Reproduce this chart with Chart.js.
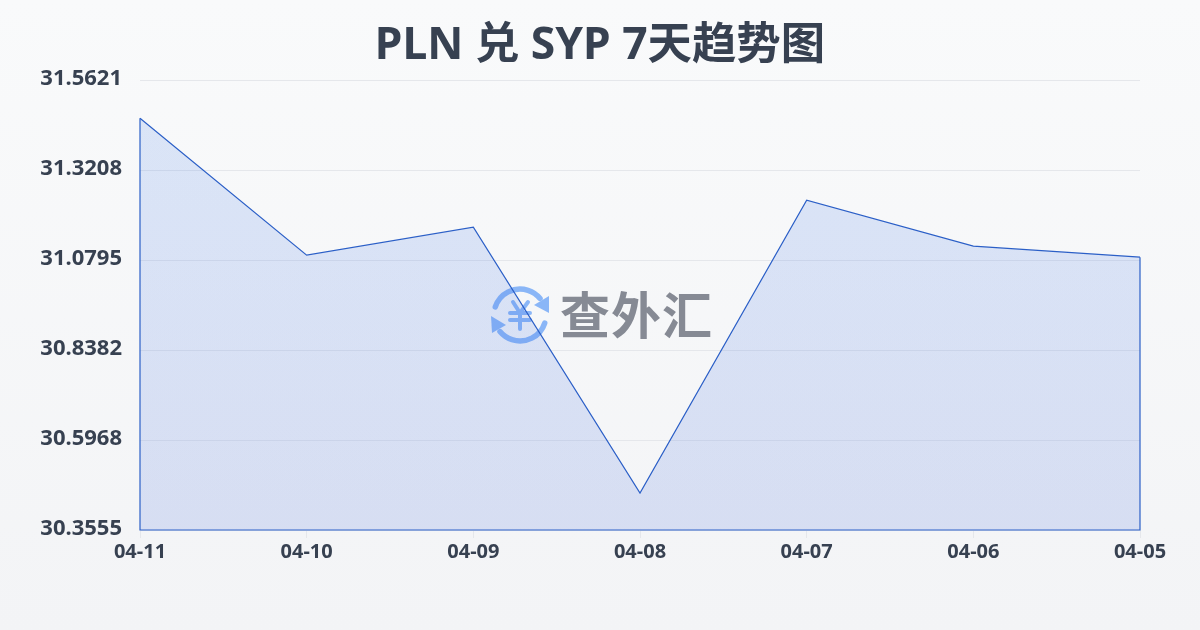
<!DOCTYPE html>
<html>
<head>
<meta charset="utf-8">
<script src="https://cdn.jsdelivr.net/npm/chart.js@4"></script>
<style>
html, body { margin: 0; padding: 0; }
body { width: 1200px; height: 630px; overflow: hidden; background: linear-gradient(180deg, #f9fafb 0%, #f3f4f6 100%); }
canvas { display: block; }
</style>
</head>
<body>
<canvas id="rate" width="1200" height="630"></canvas>
<script>
const categories = ['04-11', '04-10', '04-09', '04-08', '04-07', '04-06', '04-05']
const rates = [31.4602, 31.0929, 31.1679, 30.4547, 31.2403, 31.1170, 31.0875]
const yTicks = [30.3555, 30.5968, 30.8382, 31.0795, 31.3208, 31.5621]
const titleText = 'PLN 兑 SYP 7天趋势图'
const markText = '查外汇'

const sans = '"Noto Sans", "Noto Sans CJK SC", sans-serif'
const ink = '#374151'
const lineBlue = '#2b5fc7'

// logo and name sit under the area, the line runs across them
const watermark = {
    id: 'watermark',
    beforeDatasetsDraw(chart) {
        const c = chart.ctx
        const cx = 520, cy = 315, r = 26
        c.save()
        c.strokeStyle = '#8ab6f7'
        c.fillStyle = '#8ab6f7'
        c.lineWidth = 5.5
        c.lineCap = 'round'
        c.beginPath()
        c.arc(cx, cy, r, Math.PI * 1.1, Math.PI * 1.78)
        c.stroke()
        c.beginPath()
        c.arc(cx, cy, r, Math.PI * 0.1, Math.PI * 0.78)
        c.stroke()
        c.beginPath()
        c.moveTo(cx + 29, cy - 19)
        c.lineTo(cx + 29, cy - 2)
        c.lineTo(cx + 14, cy - 10)
        c.closePath()
        c.fill()
        c.beginPath()
        c.moveTo(cx - 29, cy + 1)
        c.lineTo(cx - 28, cy + 18)
        c.lineTo(cx - 14, cy + 10)
        c.closePath()
        c.fill()
        c.lineWidth = 4
        c.beginPath()
        c.moveTo(cx - 7, cy - 13)
        c.lineTo(cx, cy - 2)
        c.lineTo(cx + 8, cy - 13)
        c.moveTo(cx, cy - 2)
        c.lineTo(cx, cy + 14)
        c.moveTo(cx - 10, cy - 2)
        c.lineTo(cx + 10, cy - 2)
        c.moveTo(cx - 10, cy + 5)
        c.lineTo(cx + 10, cy + 5)
        c.stroke()
        c.fillStyle = '#868a94'
        c.font = '700 50px "Noto Sans CJK SC", sans-serif'
        c.textAlign = 'left'
        c.textBaseline = 'middle'
        c.letterSpacing = '1px'
        c.fillText(markText, 560, 315)
        c.restore()
    }
}

// the dataset only strokes its top, close the outline down the sides and along the bottom
const areaOutline = {
    id: 'areaOutline',
    afterDatasetsDraw(chart) {
        const c = chart.ctx
        const x = chart.scales.x, y = chart.scales.y
        const last = rates.length - 1
        c.save()
        c.strokeStyle = lineBlue
        c.lineWidth = 1.2
        c.beginPath()
        c.moveTo(x.getPixelForValue(0), y.getPixelForValue(rates[0]))
        c.lineTo(x.getPixelForValue(0), y.getPixelForValue(yTicks[0]))
        c.lineTo(x.getPixelForValue(last), y.getPixelForValue(yTicks[0]))
        c.lineTo(x.getPixelForValue(last), y.getPixelForValue(rates[last]))
        c.stroke()
        c.restore()
    }
}

new Chart(document.getElementById('rate'), {
    type: 'line',
    plugins: [watermark, areaOutline],
    data: {
        labels: categories,
        datasets: [{
            data: rates,
            borderColor: lineBlue,
            borderWidth: 1.2,
            pointRadius: 0,
            tension: 0,
            fill: 'start',
            backgroundColor(context) {
                const area = context.chart.chartArea
                if (!area) return 'rgba(66, 120, 224, 0.16)'
                const g = context.chart.ctx.createLinearGradient(0, area.top, 0, area.bottom)
                g.addColorStop(0, 'rgba(66, 125, 235, 0.16)')
                g.addColorStop(1, 'rgba(66, 105, 220, 0.16)')
                return g
            }
        }]
    },
    options: {
        responsive: false,
        animation: false,
        plugins: {
            legend: { display: false },
            tooltip: { enabled: false },
            title: {
                display: true,
                text: titleText,
                color: ink,
                font: { family: sans, size: 44.4, weight: '700' },
                padding: { top: 20, bottom: 7 }
            }
        },
        scales: {
            x: {
                afterFit(s) { s.height = 100 },
                border: { display: false },
                grid: { drawOnChartArea: false, color: '#e5e7eb', tickLength: 8 },
                ticks: {
                    color: ink,
                    font: { family: sans, size: 20, weight: '700' },
                    maxRotation: 0,
                    autoSkip: false,
                    padding: 2
                }
            },
            y: {
                min: yTicks[0],
                max: yTicks[yTicks.length - 1],
                afterFit(s) { s.width = 140 },
                afterBuildTicks(s) { s.ticks = yTicks.map(v => ({ value: v })) },
                border: { display: false },
                grid: { color: '#e5e7eb', drawTicks: false },
                ticks: {
                    color: ink,
                    // empty second line lifts the label about 1.5px above its gridline
                    font: { family: sans, size: 22, weight: '700', lineHeight: 3 / 22 },
                    padding: 18,
                    callback: v => [v.toFixed(4), '']
                }
            },
            // empty axis on the right keeps the 60px margin and leaves the title centred on the page
            spacer: {
                type: 'linear',
                position: 'right',
                afterFit(s) { s.width = 60 },
                border: { display: false },
                grid: { display: false },
                ticks: { display: false }
            }
        }
    }
})
</script>
</body>
</html>
